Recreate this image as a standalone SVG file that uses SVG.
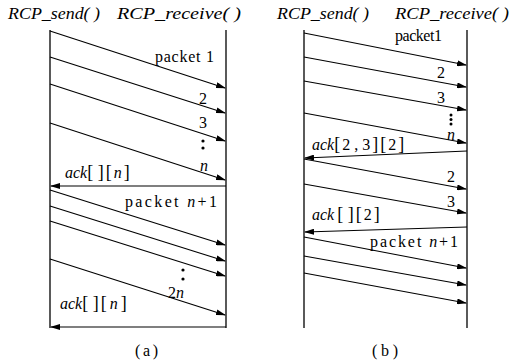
<svg xmlns="http://www.w3.org/2000/svg" width="510" height="363" viewBox="0 0 510 363">
<style>
.life{stroke:#000;stroke-width:1.3;fill:none}
.msg{stroke:#000;stroke-width:1.2;fill:none;marker-end:url(#ah)}
text{font-family:'Liberation Serif','DejaVu Serif',serif;font-size:16px;fill:#000}
.it{font-style:italic}
.ttl{font-style:italic;font-size:16px}
</style>
<defs>
<marker id="ah" markerUnits="userSpaceOnUse" markerWidth="10" markerHeight="6" refX="9" refY="3" orient="auto">
<path d="M0,0 L10,3 L0,6 Z" fill="#000"/>
</marker>
</defs>
<g id="titles">
<text class="ttl" x="8" y="19" textLength="92" lengthAdjust="spacingAndGlyphs">RCP_send( )</text>
<text class="ttl" x="117" y="19" textLength="124" lengthAdjust="spacingAndGlyphs">RCP_receive( )</text>
<text class="ttl" x="277" y="19" textLength="92" lengthAdjust="spacingAndGlyphs">RCP_send( )</text>
<text class="ttl" x="395" y="19" textLength="114" lengthAdjust="spacingAndGlyphs">RCP_receive( )</text>
</g>
<g id="lifelines">
<line class="life" x1="50" y1="30" x2="50" y2="328"/>
<line class="life" x1="226" y1="30" x2="226" y2="328" stroke="#555"/>
<line class="life" x1="304" y1="30" x2="304" y2="328"/>
<line class="life" x1="467" y1="30" x2="467" y2="328"/>
</g>
<g id="connectors">
<line class="msg" x1="50" y1="31" x2="225" y2="88"/>
<line class="msg" x1="50" y1="57" x2="225" y2="113"/>
<line class="msg" x1="50" y1="84" x2="225" y2="141"/>
<line class="msg" x1="50" y1="123" x2="225" y2="180"/>
<line class="msg" x1="226" y1="186" x2="51" y2="186"/>
<line class="msg" x1="50" y1="190" x2="225" y2="245"/>
<line class="msg" x1="50" y1="206" x2="225" y2="261"/>
<line class="msg" x1="50" y1="221" x2="225" y2="276"/>
<line class="msg" x1="50" y1="259" x2="225" y2="315"/>
<line class="msg" x1="226" y1="327" x2="51" y2="327"/>
<line class="msg" x1="304" y1="33" x2="466" y2="65"/>
<line class="msg" x1="304" y1="57" x2="466" y2="87"/>
<line class="msg" x1="304" y1="81" x2="466" y2="110"/>
<line class="msg" x1="304" y1="113" x2="466" y2="143"/>
<line class="msg" x1="467" y1="151" x2="305" y2="158"/>
<line class="msg" x1="304" y1="159" x2="466" y2="189"/>
<line class="msg" x1="304" y1="184" x2="466" y2="213"/>
<line class="msg" x1="467" y1="227" x2="305" y2="232"/>
<line class="msg" x1="304" y1="237" x2="466" y2="268"/>
<line class="msg" x1="304" y1="256" x2="466" y2="285"/>
<line class="msg" x1="304" y1="273" x2="466" y2="303"/>
</g>
<g id="labels-a">
<text x="155" y="62" textLength="59">packet 1</text>
<text x="199" y="104">2</text>
<text x="199" y="128">3</text>
<circle cx="203" cy="141" r="1.6"/>
<circle cx="203" cy="148" r="1.6"/>
<text class="it" x="200" y="171">n</text>
<text x="65" y="178"><tspan class="it">ack</tspan><tspan font-size="18">[ ]</tspan><tspan font-size="18" dx="2">[</tspan><tspan class="it" dx="2">n</tspan><tspan font-size="18" dx="2">]</tspan></text>
<text x="125" y="207" textLength="92">packet  <tspan class="it">n</tspan>+1</text>
<circle cx="183" cy="270" r="1.6"/>
<circle cx="183" cy="279" r="1.6"/>
<text x="168" y="298"><tspan>2</tspan><tspan class="it">n</tspan></text>
<text x="60" y="309"><tspan class="it">ack</tspan><tspan font-size="18">[  ]</tspan><tspan font-size="18" dx="2">[</tspan><tspan class="it" dx="3">n</tspan><tspan font-size="18" dx="3">]</tspan></text>
<text x="135" y="356" textLength="23">(a)</text>
</g>
<g id="labels-b">
<text x="395" y="41" textLength="47">packet1</text>
<text x="437" y="78">2</text>
<text x="437" y="103">3</text>
<circle cx="451" cy="115" r="1.5"/>
<circle cx="451" cy="119.5" r="1.5"/>
<circle cx="451" cy="124" r="1.5"/>
<text class="it" x="447" y="140">n</text>
<text x="312" y="150"><tspan class="it">ack</tspan><tspan font-size="18">[</tspan><tspan dx="2">2 , 3</tspan><tspan font-size="18" dx="2">]</tspan><tspan font-size="18" dx="2">[</tspan><tspan dx="2">2</tspan><tspan font-size="18" dx="2">]</tspan></text>
<text x="447" y="182">2</text>
<text x="447" y="207">3</text>
<text x="312" y="220"><tspan class="it">ack</tspan><tspan font-size="18" dx="3">[ ]</tspan><tspan font-size="18" dx="2">[</tspan><tspan dx="2">2</tspan><tspan font-size="18" dx="2">]</tspan></text>
<text x="370" y="247" textLength="88">packet <tspan class="it">n</tspan>+1</text>
<text x="372" y="356" textLength="26">(b)</text>
</g>
</svg>
